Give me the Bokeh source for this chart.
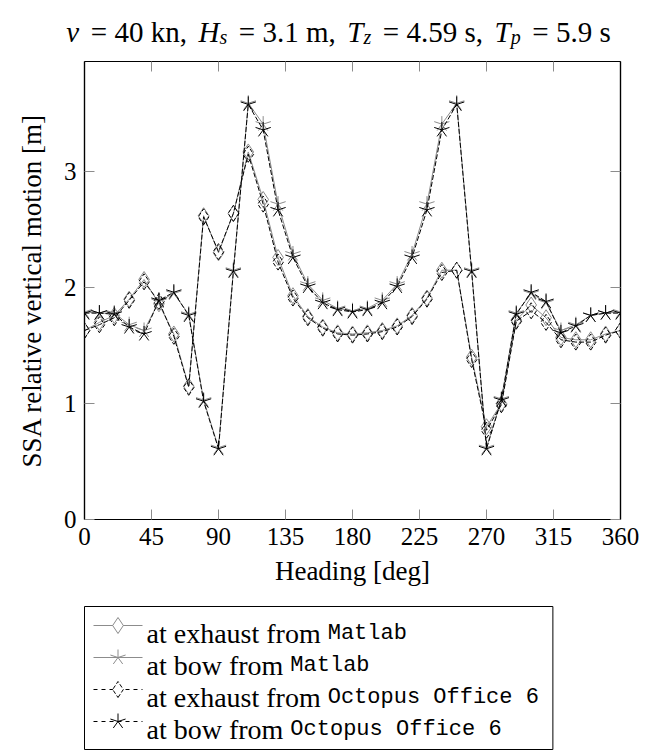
import math
from bokeh.plotting import figure
from bokeh.models import Range1d, FixedTicker, LinearAxis, ColumnDataSource, CustomLabelingPolicy
from bokeh.layouts import column
from bokeh.core.properties import value
from bokeh.embed import file_html
from bokeh.resources import INLINE

# ---------------- data ----------------
heading = [0, 10, 20, 30, 40, 50, 60, 70, 80, 90, 100, 110, 120, 130, 140, 150, 160, 170, 180,
           190, 200, 210, 220, 230, 240, 250, 260, 270, 280, 290, 300, 310, 320, 330, 340, 350, 360]

exhaust_matlab = [1.63, 1.70, 1.76, 1.90, 2.07, 1.86, 1.60, 1.15, 2.62, 2.30, 2.64, 3.17, 2.76,
                  2.26, 1.93, 1.75, 1.66, 1.61, 1.60, 1.61, 1.63, 1.67, 1.76, 1.91, 2.15, 2.15,
                  1.40, 0.80, 1.00, 1.72, 1.85, 1.74, 1.57, 1.55, 1.55, 1.60, 1.63]
bow_matlab = [1.79, 1.78, 1.78, 1.68, 1.63, 1.88, 1.95, 1.77, 1.03, 0.62, 2.15, 3.59, 3.41,
              2.72, 2.29, 2.03, 1.89, 1.82, 1.80, 1.82, 1.89, 2.03, 2.29, 2.72, 3.41, 3.59,
              2.15, 0.62, 1.04, 1.78, 1.95, 1.87, 1.63, 1.68, 1.76, 1.78, 1.79]
exhaust_octopus = [1.63, 1.68, 1.74, 1.89, 2.05, 1.88, 1.58, 1.14, 2.61, 2.31, 2.64, 3.15, 2.72,
                   2.22, 1.91, 1.74, 1.65, 1.60, 1.59, 1.60, 1.62, 1.66, 1.75, 1.90, 2.13, 2.15,
                   1.38, 0.77, 0.99, 1.71, 1.80, 1.70, 1.55, 1.53, 1.53, 1.59, 1.63]
bow_octopus = [1.78, 1.78, 1.77, 1.66, 1.60, 1.89, 1.96, 1.76, 1.02, 0.61, 2.14, 3.58, 3.36,
               2.67, 2.26, 2.01, 1.87, 1.81, 1.79, 1.81, 1.87, 2.01, 2.26, 2.67, 3.36, 3.58,
               2.14, 0.61, 1.03, 1.77, 1.96, 1.88, 1.61, 1.67, 1.76, 1.78, 1.78]

x_ticks = [0, 45, 90, 135, 180, 225, 270, 315, 360]
y_ticks = [0, 1, 2, 3]

x_label = "Heading [deg]"
y_label = "SSA relative vertical motion [m]"

title_parts = [("v", "it"), ("= 40 kn,", "rm"), ("H", "it"), ("s", "sub"), ("= 3.1 m,", "rm"),
               ("T", "it"), ("z", "sub"), ("= 4.59 s,", "rm"), ("T", "it"), ("p", "sub"),
               ("= 5.9 s", "rm")]

legend_text = ["at exhaust from", "at bow from", "at exhaust from", "at bow from"]
legend_code = ["Matlab", "Matlab", "Octopus Office 6", "Octopus Office 6"]

# ---------------- style ----------------
SERIF = "Liberation Serif"
MONO = "Liberation Mono"
GRAY = "#8c8c8c"
BLACK = "#000000"
DASH = "5 2"
STAR_ANGLES = [math.radians(a) for a in (90, 18, -54, -126, 162)]
STAR_LEN = 8
DIAMOND_SIZE = 16

# Times-compatible advance widths (em) for text layout
W_RM = {" ": .25, ",": .25, ".": .25, "=": .564, "[": .333, "]": .333, "a": .444, "b": .5,
        "c": .444, "d": .5, "e": .444, "f": .333, "g": .5, "h": .5, "i": .278, "k": .5,
        "l": .278, "m": .778, "n": .5, "o": .5, "p": .5, "r": .333, "s": .389, "t": .278,
        "u": .5, "v": .5, "w": .722, "x": .5}
W_IT = {"v": .444, "H": .722, "T": .556, "s": .389, "z": .389, "p": .5}


def width_rm(s, size):
    return sum(W_RM.get(c, .5) for c in s) * size


def bare(fig):
    fig.grid.visible = False
    fig.frame_align = False
    return fig


# ---------------- title figure (page y 0..53) ----------------
TW, TH = 640, 53
tf = bare(figure(width=TW, height=TH, x_range=Range1d(0, TW), y_range=Range1d(0, TH),
                 output_backend="svg", toolbar_location=None, min_border=0,
                 x_axis_type=None, y_axis_type=None, outline_line_color=None))
TS = 29
SUB = 20
GAP = 0.4
pieces = {"it": ([], []), "rm": ([], []), "sub": ([], [])}
cx = 0.0
first = True
for txt, st in title_parts:
    if st == "rm":
        cx += GAP * TS
        w = width_rm(txt, TS)
    elif st == "it":
        if not first:
            cx += GAP * TS
        w = sum(W_IT.get(c, .5) for c in txt) * TS
    else:
        w = sum(W_IT.get(c, .5) for c in txt) * SUB
    pieces[st][0].append(cx)
    pieces[st][1].append(txt)
    cx += w
    first = False
x0 = 338 - cx / 2
base_y = TH - 31
for st, (xs, ts) in pieces.items():
    yy = base_y - (5 if st == "sub" else 0)
    tf.text(x=[x0 + v for v in xs], y=[yy] * len(xs), text=ts,
            text_font=value(SERIF), text_font_size=f"{SUB if st == 'sub' else TS}px",
            text_font_style="normal" if st == "rm" else "italic",
            text_align="left", text_baseline="alphabetic", text_color="black")

# ---------------- main figure (page y 53..600) ----------------
p = figure(width=640, height=547, x_range=Range1d(0, 360), y_range=Range1d(0, 3.95),
           output_backend="svg", toolbar_location=None,
           min_border_left=84, min_border_right=20, min_border_top=8, min_border_bottom=81,
           x_axis_label=x_label, y_axis_label=y_label)
p.frame_align = False
p.grid.visible = False
p.outline_line_color = "black"
p.outline_line_width = 1.2

hide_all = CustomLabelingPolicy(code="""
for (const i of indices) { indices.unset(i) }
return indices
""")
top_axis = LinearAxis()
right_axis = LinearAxis()
p.add_layout(top_axis, "above")
p.add_layout(right_axis, "right")

for ax in [p.below[0], top_axis]:
    ax.ticker = FixedTicker(ticks=x_ticks)
for ax in [p.left[0], right_axis]:
    ax.ticker = FixedTicker(ticks=y_ticks)
for ax in [p.below[0], p.left[0], top_axis, right_axis]:
    ax.major_tick_in = 10
    ax.major_tick_out = 0
    ax.major_tick_line_color = GRAY
    ax.major_tick_line_width = 1
    ax.minor_tick_line_color = None
    ax.axis_line_color = "black"
    ax.axis_line_width = 1.2
    ax.major_label_text_font = SERIF
    ax.major_label_text_font_size = "25px"
    ax.major_label_text_color = "black"
    ax.major_label_standoff = 8
    ax.axis_label_text_font = SERIF
    ax.axis_label_text_font_size = "27px"
    ax.axis_label_text_font_style = "normal"
    ax.axis_label_text_color = "black"
for ax in [top_axis, right_axis]:
    ax.major_label_policy = hide_all
    ax.major_label_text_font_size = "1px"
    ax.major_label_standoff = 0
p.below[0].axis_label_standoff = 8
p.left[0].axis_label_standoff = 14
p.left[0].major_label_orientation = "horizontal"

src = ColumnDataSource(dict(h=heading, em=exhaust_matlab, bm=bow_matlab,
                            eo=exhaust_octopus, bo=bow_octopus))

# Matlab (gray, solid)
p.line("h", "em", source=src, line_color=GRAY, line_width=1)
p.scatter("h", "em", source=src, marker="diamond", size=DIAMOND_SIZE,
          fill_color=None, line_color=GRAY, line_width=1)
p.line("h", "bm", source=src, line_color=GRAY, line_width=1)
for a in STAR_ANGLES:
    p.ray("h", "bm", source=src, length=STAR_LEN, length_units="screen", angle=a,
          line_color=GRAY, line_width=1)
# Octopus (black, dashed)
p.line("h", "eo", source=src, line_color=BLACK, line_width=1, line_dash=DASH)
p.scatter("h", "eo", source=src, marker="diamond", size=DIAMOND_SIZE,
          fill_color=None, line_color=BLACK, line_width=1, line_dash="4 2")
p.line("h", "bo", source=src, line_color=BLACK, line_width=1, line_dash=DASH)
for a in STAR_ANGLES:
    p.ray("h", "bo", source=src, length=STAR_LEN, length_units="screen", angle=a,
          line_color=BLACK, line_width=1)

# ---------------- legend figure (page y 600..754) ----------------
LW, LH = 640, 154
LY0 = 600
lf = bare(figure(width=LW, height=LH, x_range=Range1d(0, LW), y_range=Range1d(0, LH),
                 output_backend="svg", toolbar_location=None, min_border=0,
                 x_axis_type=None, y_axis_type=None, outline_line_color=None))


def fy(page_y):
    return LY0 + LH - page_y


LS = 28
MS = 22
row_y = [625, 657, 689, 721]
text_x = 146
ends = []
for t, c in zip(legend_text, legend_code):
    ends.append(text_x + width_rm(t + " ", LS) + 0.6 * MS * len(c))
box_right = max(ends) + 14
lf.quad(left=[84], right=[box_right], top=[fy(606)], bottom=[fy(749)],
        fill_color=None, line_color="black", line_width=1)

for i in range(4):
    yy = fy(row_y[i])
    col = GRAY if i < 2 else BLACK
    dash = "solid" if i < 2 else "4 4"
    lf.line(x=[93, 142], y=[yy, yy], line_color=col, line_width=1, line_dash=dash)
    mx = 117.5
    if i % 2 == 0:
        lf.scatter(x=[mx], y=[yy], marker="diamond", size=DIAMOND_SIZE, fill_color="white",
                   line_color=col, line_width=1, line_dash="solid" if i < 2 else "4 2")
    else:
        for a in STAR_ANGLES:
            lf.ray(x=[mx], y=[yy], length=STAR_LEN, length_units="screen", angle=a,
                   line_color=col, line_width=1)
    by = yy - 8
    lf.text(x=[text_x], y=[by], text=[legend_text[i]], text_font=value(SERIF),
            text_font_size=f"{LS}px", text_align="left", text_baseline="alphabetic",
            text_color="black")
    lf.text(x=[text_x + width_rm(legend_text[i] + " ", LS)], y=[by], text=[legend_code[i]],
            text_font=value(MONO), text_font_size=f"{MS}px", text_align="left",
            text_baseline="alphabetic", text_color="black")

layout = column(tf, p, lf, spacing=0)
open("out.html", "w").write(file_html(layout, INLINE))
